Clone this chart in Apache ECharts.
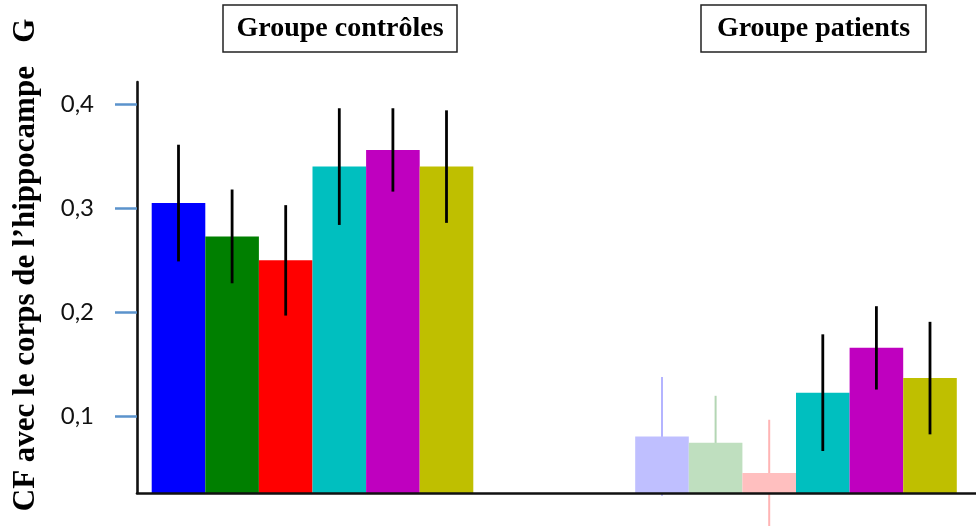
<!DOCTYPE html>
<html>
<head>
<meta charset="utf-8">
<script src="https://cdn.jsdelivr.net/npm/echarts@6.0.0/dist/echarts.min.js"></script>
<style>
  html, body { margin: 0; padding: 0; background: #fff; }
  #chart { width: 976px; height: 528px; }
</style>
</head>
<body>
<div id="chart"></div>
<script>
// Groups on the x axis
const groups = ['Groupe contrôles', 'Groupe patients'];

// Mean connectivity values and error half-widths, one entry per bar in each group
const meanControles = [0.305, 0.273, 0.250, 0.340, 0.356, 0.340];
const errControles  = [0.056, 0.045, 0.053, 0.056, 0.040, 0.054];
const meanPatients  = [0.081, 0.075, 0.046, 0.123, 0.166, 0.137];
const errPatients   = [0.057, 0.045, 0.051, 0.056, 0.040, 0.054];

// Y axis tick values and labels
const yTicks = [0.1, 0.2, 0.3, 0.4];
const yTickLabels = ['0,1', '0,2', '0,3', '0,4'];

// Bar colours (patients: first three drawn faded)
const barColors     = ['#0000ff', '#007f00', '#ff0000', '#00bfbf', '#bf00bf', '#bfbf00'];
const patientColors = ['#bfbfff', '#bfdfbf', '#ffbfbf', '#00bfbf', '#bf00bf', '#bfbf00'];
const errColorsCtrl = ['#000', '#000', '#000', '#000', '#000', '#000'];
const errColorsPat  = ['#b4b4ff', '#b4d6b4', '#ffb4b4', '#000', '#000', '#000'];

const Y_MIN = 0.0267, Y_MAX = 0.4212;
const BAR_W = 53.6;

const chart = echarts.init(document.getElementById('chart'), null, { renderer: 'canvas' });

const barSeries = barColors.map((c, i) => ({
  type: 'bar',
  xAxisIndex: 1,
  yAxisIndex: 1,
  barWidth: BAR_W,
  barGap: '0%',
  silent: true,
  z: 2,
  data: [
    { value: meanControles[i], itemStyle: { color: barColors[i] } },
    { value: meanPatients[i],  itemStyle: { color: patientColors[i] } }
  ]
}));

// Error bar rows: [group index, bar index, mean, half-width, colour]
const errDark = [];
const errFaded = [];
for (let i = 0; i < barColors.length; i++) {
  errDark.push([0, i, meanControles[i], errControles[i], errColorsCtrl[i]]);
  const row = [1, i, meanPatients[i], errPatients[i], errColorsPat[i]];
  if (errColorsPat[i] === '#000') errDark.push(row); else errFaded.push(row);
}

function errorBarSeries(rows, z, width) {
  return {
    type: 'custom',
    xAxisIndex: 1,
    yAxisIndex: 1,
    clip: false,
    silent: true,
    z: z,
    encode: { x: 0, y: 2 },
    data: rows,
    renderItem: function (params, api) {
      const row = rows[params.dataIndex];
      const cat = row[0], k = row[1], m = row[2], e = row[3];
      const top = api.coord([cat, m + e]);
      const bot = api.coord([cat, m - e]);
      const x = top[0] + (k - 2.5) * BAR_W;
      return {
        type: 'line',
        shape: { x1: x, y1: top[1], x2: x, y2: bot[1] },
        style: { stroke: row[4], lineWidth: width }
      };
    }
  };
}

const option = {
  backgroundColor: '#fff',
  animation: false,
  grid: [
    { left: 137, right: -20, top: 82, bottom: 35, outerBoundsMode: 'none', containLabel: false },
    { left: 70.75, width: 967, top: 82, bottom: 35, outerBoundsMode: 'none', containLabel: false }
  ],
  xAxis: [
    {
      gridIndex: 0, type: 'category', data: groups, z: 3,
      axisLine: { show: true, lineStyle: { color: '#111', width: 2.6 } },
      axisTick: { show: false }, axisLabel: { show: false }, splitLine: { show: false }
    },
    { gridIndex: 1, type: 'category', data: groups, show: false }
  ],
  yAxis: [
    {
      gridIndex: 0, type: 'value', min: Y_MIN, max: Y_MAX, z: 10,
      axisLine: { show: true, lineStyle: { color: '#111', width: 2.6 } },
      axisTick: {
        show: true, customValues: yTicks, length: 22, inside: false,
        lineStyle: { color: '#5b93cc', width: 2.5 }
      },
      axisLabel: {
        show: true, customValues: yTicks, margin: 43,
        formatter: function (v) {
          const idx = yTicks.findIndex(t => Math.abs(t - v) < 1e-9);
          return idx >= 0 ? yTickLabels[idx] : '';
        },
        color: '#111', fontSize: 24, fontFamily: 'Lato'
      },
      splitLine: { show: false }
    },
    { gridIndex: 1, type: 'value', min: Y_MIN, max: Y_MAX, show: false }
  ],
  graphic: [
    {
      type: 'text', x: 26, y: 265, rotation: Math.PI / 2,
      style: {
        text: 'CF avec le corps de l\u2019hippocampe   G',
        fill: '#000', font: 'bold 31px "Liberation Serif"',
        align: 'center', verticalAlign: 'middle'
      }
    },
    {
      type: 'rect', shape: { x: 223, y: 5, width: 234, height: 47 },
      style: { fill: '#fff', stroke: '#222', lineWidth: 1.5 }
    },
    {
      type: 'text', x: 340, y: 29,
      style: {
        text: groups[0], fill: '#000', font: 'bold 28px "Liberation Serif"',
        align: 'center', verticalAlign: 'middle'
      }
    },
    {
      type: 'rect', shape: { x: 701, y: 5, width: 225, height: 47 },
      style: { fill: '#fff', stroke: '#222', lineWidth: 1.5 }
    },
    {
      type: 'text', x: 813.5, y: 29,
      style: {
        text: groups[1], fill: '#000', font: 'bold 28px "Liberation Serif"',
        align: 'center', verticalAlign: 'middle'
      }
    }
  ],
  series: barSeries.concat([errorBarSeries(errFaded, 1, 2), errorBarSeries(errDark, 5, 2.8)])
};

chart.setOption(option);
</script>
</body>
</html>
